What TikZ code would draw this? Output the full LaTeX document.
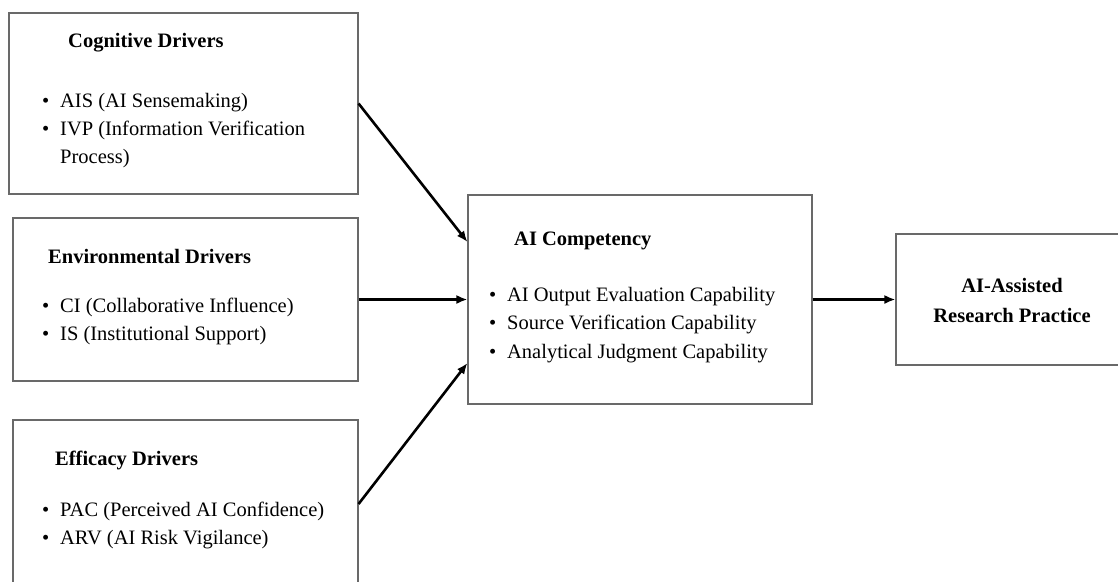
\documentclass[tikz,border=0pt]{standalone}
\usepackage{fontspec}
\setmainfont{Liberation Serif}
\usetikzlibrary{arrows.meta}
\definecolor{boxgray}{RGB}{105,105,105}
\newcommand{\itm}{\makebox[18pt][l]{\textbullet}}

\begin{document}
\begin{tikzpicture}[x=1pt,y=-1pt,font=\fontsize{20.5}{28}\selectfont,
  box/.style={draw=boxgray,line width=1.1pt,inner sep=0pt},
  txt/.style={anchor=base west,inner sep=0pt},
  head/.style={txt,font=\fontsize{20.5}{28}\selectfont\bfseries},
  flow/.style={line width=2.6pt,-{Latex[length=11pt,width=9pt]}}]
\useasboundingbox (0,0) rectangle (1118,581);
% boxes
\node[box,minimum width=349,minimum height=181] (cog) at (183.5,103.5) {};
\node[box,minimum width=345,minimum height=163] (env) at (185.5,299.5) {};
\node[box,minimum width=345,minimum height=168] (eff) at (185.5,504) {};
\node[box,minimum width=344,minimum height=209] (comp) at (640,299.5) {};
\node[box,minimum width=232,minimum height=131] (prac) at (1012,299.5) {};
% texts
\node[head] (cogT) at (68,47) {Cognitive Drivers};
\node[txt] (cogA) at (42,107) {\itm AIS (AI Sensemaking)};
\node[txt] (cogB) at (42,135) {\itm IVP (Information Verification};
\node[txt] (cogC) at (60,163) {Process)};
\node[head] (envT) at (48,263) {Environmental Drivers};
\node[txt] (envA) at (42,312) {\itm CI (Collaborative Influence)};
\node[txt] (envB) at (42,340) {\itm IS (Institutional Support)};
\node[head] (effT) at (55,465) {Efficacy Drivers};
\node[txt] (effA) at (42,516) {\itm PAC (Perceived AI Confidence)};
\node[txt] (effB) at (42,544) {\itm ARV (AI Risk Vigilance)};
\node[head] (compT) at (514,245) {AI Competency};
\node[txt] (compA) at (489,301) {\itm AI Output Evaluation Capability};
\node[txt] (compB) at (489,329) {\itm Source Verification Capability};
\node[txt] (compC) at (489,358) {\itm Analytical Judgment Capability};
\node[head,anchor=base] (pracA) at (1012,292) {AI-Assisted};
\node[head,anchor=base] (pracB) at (1012,322) {Research Practice};
% arrows
\draw[flow] (cog.east) -- ([yshift=57.5pt]comp.west);
\draw[flow] (env.east) -- (comp.west);
\draw[flow] (eff.east) -- ([yshift=-63.5pt]comp.west);
\draw[flow] (comp.east) -- (prac.west);
\end{tikzpicture}
\end{document}
